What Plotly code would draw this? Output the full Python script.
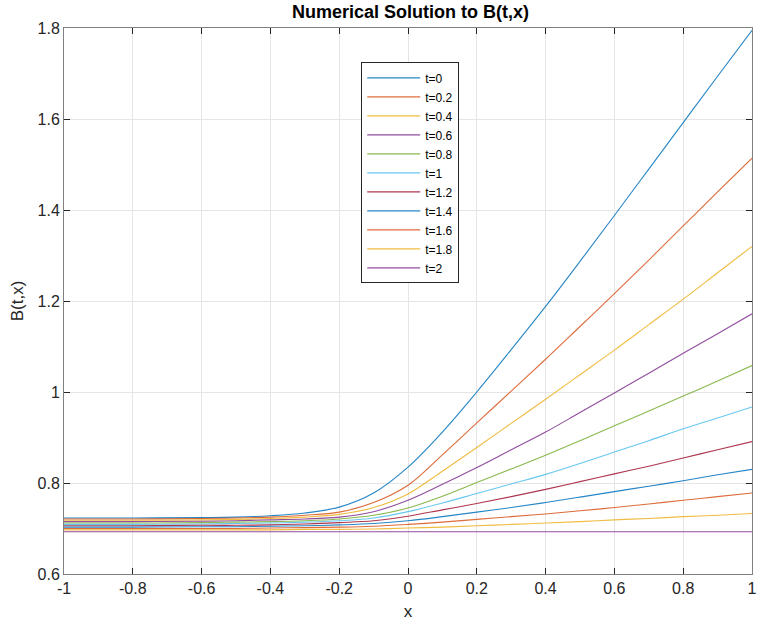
import plotly.graph_objects as go

x_vals = [-1, -0.8, -0.6, -0.5, -0.4, -0.3, -0.2, -0.1, 0, 0.1, 0.2, 0.3, 0.4, 0.5, 0.6, 0.7, 0.8, 0.9, 1]

t_labels = ["t=0", "t=0.2", "t=0.4", "t=0.6", "t=0.8", "t=1",
            "t=1.2", "t=1.4", "t=1.6", "t=1.8", "t=2"]

B_t0 = [0.723, 0.723, 0.724, 0.725, 0.728, 0.734, 0.747, 0.778, 0.835, 0.912, 1.000, 1.093, 1.188, 1.287, 1.388, 1.490, 1.592, 1.694, 1.795]
B_t02 = [0.721, 0.721, 0.722, 0.723, 0.725, 0.729, 0.736, 0.757, 0.795, 0.862, 0.932, 1.002, 1.072, 1.144, 1.216, 1.290, 1.365, 1.440, 1.514]
B_t04 = [0.718, 0.718, 0.719, 0.720, 0.722, 0.725, 0.731, 0.746, 0.776, 0.826, 0.878, 0.931, 0.984, 1.038, 1.092, 1.148, 1.204, 1.262, 1.320]
B_t06 = [0.715, 0.715, 0.716, 0.717, 0.719, 0.721, 0.725, 0.737, 0.762, 0.797, 0.834, 0.873, 0.912, 0.955, 0.998, 1.041, 1.085, 1.128, 1.172]
B_t08 = [0.712, 0.712, 0.713, 0.714, 0.715, 0.717, 0.721, 0.729, 0.745, 0.771, 0.801, 0.831, 0.861, 0.893, 0.926, 0.958, 0.991, 1.024, 1.058]
B_t10 = [0.709, 0.709, 0.710, 0.711, 0.712, 0.714, 0.717, 0.723, 0.737, 0.756, 0.777, 0.798, 0.819, 0.843, 0.868, 0.893, 0.919, 0.943, 0.967]
B_t12 = [0.706, 0.706, 0.707, 0.707, 0.708, 0.710, 0.713, 0.717, 0.727, 0.741, 0.755, 0.770, 0.786, 0.803, 0.820, 0.837, 0.855, 0.873, 0.891]
B_t14 = [0.703, 0.703, 0.704, 0.704, 0.705, 0.706, 0.708, 0.711, 0.717, 0.726, 0.736, 0.746, 0.757, 0.769, 0.781, 0.793, 0.805, 0.818, 0.830]
B_t16 = [0.700, 0.700, 0.700, 0.700, 0.701, 0.702, 0.703, 0.705, 0.709, 0.714, 0.720, 0.726, 0.732, 0.739, 0.746, 0.754, 0.762, 0.770, 0.778]
B_t18 = [0.697, 0.697, 0.697, 0.697, 0.697, 0.698, 0.698, 0.699, 0.701, 0.703, 0.706, 0.709, 0.712, 0.715, 0.719, 0.722, 0.726, 0.729, 0.733]
B_t20 = [0.693, 0.693, 0.693, 0.693, 0.693, 0.693, 0.693, 0.693, 0.693, 0.693, 0.693, 0.693, 0.693, 0.693, 0.693, 0.693, 0.693, 0.693, 0.693]

series = [B_t0, B_t02, B_t04, B_t06, B_t08, B_t10, B_t12, B_t14, B_t16, B_t18, B_t20]

colors = ["#0072BD", "#D95319", "#EDB120", "#7E2F8E", "#77AC30", "#4DBEEE",
          "#A2142F", "#0072BD", "#D95319", "#EDB120", "#7E2F8E"]

x_ticks = [-1, -0.8, -0.6, -0.4, -0.2, 0, 0.2, 0.4, 0.6, 0.8, 1]
x_ticktext = ["-1", "-0.8", "-0.6", "-0.4", "-0.2", "0", "0.2", "0.4", "0.6", "0.8", "1"]
y_ticks = [0.6, 0.8, 1.0, 1.2, 1.4, 1.6, 1.8]
y_ticktext = ["0.6", "0.8", "1", "1.2", "1.4", "1.6", "1.8"]

FONT = "Liberation Sans, Arial, Helvetica, sans-serif"

fig = go.Figure()
for name, ys, c in zip(t_labels, series, colors):
    fig.add_trace(go.Scatter(x=x_vals, y=ys, mode="lines", name=name, opacity=0.85,
                             line=dict(color=c, width=1.1, shape="spline", smoothing=1.0)))

axis_common = dict(
    showgrid=True, gridcolor="#E5E5E5", gridwidth=1,
    showline=True, linecolor="#808080", linewidth=1, mirror="ticks",
    ticks="inside", ticklen=6, tickcolor="#262626", tickwidth=1,
    zeroline=False, ticklabeloverflow="allow",
    tickfont=dict(family=FONT, size=16, color="#262626"),
    title_font=dict(family=FONT, size=17, color="#262626"),
)

fig.update_layout(
    width=760, height=625,
    margin=dict(l=64, r=3, t=28, b=51),
    paper_bgcolor="white", plot_bgcolor="white",
    title=dict(text="<b>Numerical Solution to B(t,x)</b>", x=0.54, xanchor="center",
               y=0.982, yanchor="middle",
               font=dict(family=FONT, size=18, color="#000000")),
    xaxis=dict(range=[-1, 1], tickvals=x_ticks, ticktext=x_ticktext,
               title=dict(text="x", standoff=8), **axis_common),
    yaxis=dict(range=[0.6, 1.8], tickvals=y_ticks, ticktext=y_ticktext,
               title=dict(text="B(t,x)", standoff=9), **axis_common),
    legend=dict(x=0.432, y=0.937, xanchor="left", yanchor="top",
                bgcolor="white", bordercolor="#262626", borderwidth=1,
                font=dict(family=FONT, size=12, color="#000000"),
                tracegroupgap=0, itemwidth=53),
    showlegend=True,
)

fig.write_html("out.html")
